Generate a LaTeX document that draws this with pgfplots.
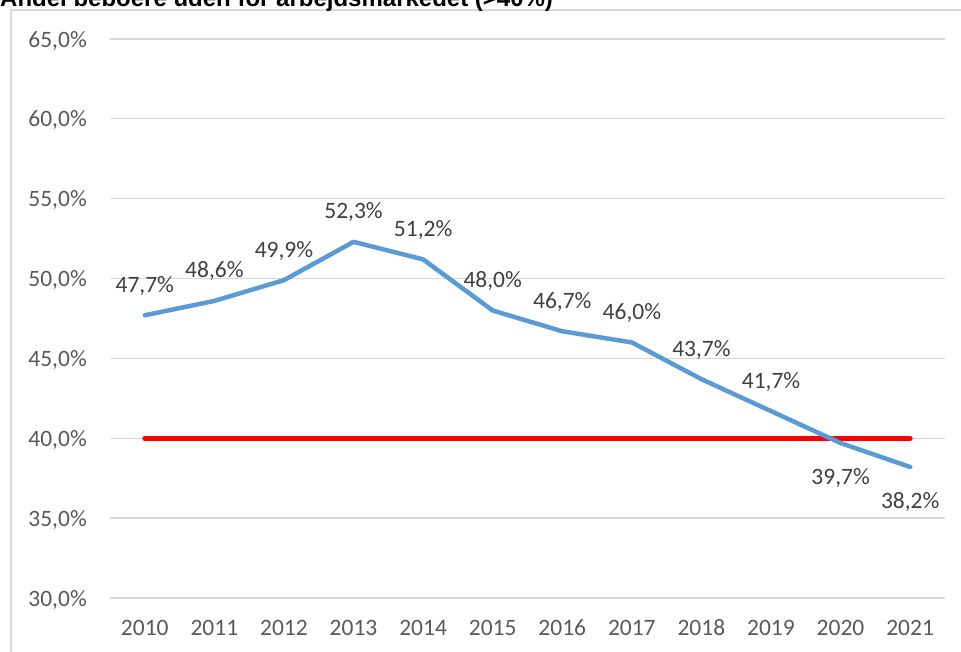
\documentclass[border=0pt]{standalone}
\usepackage{pgfplots}
\pgfplotsset{compat=1.18}
\usepackage{fontspec}
\setmainfont{Carlito}
\newfontfamily\titlefont{Liberation Sans}
\definecolor{gridc}{HTML}{D9D9D9}
\definecolor{tickc}{HTML}{595959}
\definecolor{labc}{HTML}{404040}
\definecolor{bluel}{HTML}{5B9BD5}
\begin{document}
\begin{tikzpicture}[x=1pt,y=1pt]
\path[use as bounding box, clip] (0,0) rectangle (961,652);
\draw[gridc, line width=1.2pt] (11,-10) -- (11,642) -- (975,642);
\node[anchor=base west, inner sep=0, font=\titlefont\bfseries\fontsize{24}{28}\selectfont] at (0,645) {Andel beboere uden for arbejdsmarkedet (>40\%)};
\begin{axis}[
  at={(110pt,54pt)}, anchor=south west,
  scale only axis, width=835pt, height=559pt,
  xmin=2009.5, xmax=2021.5, ymin=30, ymax=65,
  ytick={30,35,...,65}, xtick={2010,...,2021},
  ymajorgrids, major grid style={gridc, line width=1.3pt},
  axis line style={draw=none}, major tick length=0pt,
  clip=false,
  font=\fontsize{23.5}{28}\selectfont,
  yticklabel={\pgfmathprintnumber[fixed,fixed zerofill,precision=1,use comma,assume math mode=true]{\tick}\%},
  xticklabel={\pgfmathprintnumber[assume math mode=true,1000 sep={}]{\tick}},
  yticklabel style={anchor=east, inner sep=0pt, xshift=-23pt, text=tickc, text depth=0pt},
  xticklabel style={anchor=base, inner sep=0pt, yshift=-38pt, text=tickc},
]
\addplot[red, line width=5pt, line cap=round] coordinates {(2010,40) (2021,40)};
\addplot[bluel, line width=4.5pt, line cap=round, line join=round, mark=none] coordinates {
(2010,47.7) (2011,48.6) (2012,49.9) (2013,52.3) (2014,51.2) (2015,48.0)
(2016,46.7) (2017,46.0) (2018,43.7) (2019,41.7) (2020,39.7) (2021,38.2)};
\addplot[draw=none, mark=none, point meta=explicit symbolic,
  nodes near coords, nodes near coords align={center},
  every node near coord/.style={anchor=base, inner sep=0pt, yshift=23pt, text=labc}]
  coordinates {
(2010,47.7)[47,7\%] (2011,48.6)[48,6\%] (2012,49.9)[49,9\%] (2013,52.3)[52,3\%] (2014,51.2)[51,2\%] (2015,48.0)[48,0\%]
(2016,46.7)[46,7\%] (2017,46.0)[46,0\%] (2018,43.7)[43,7\%] (2019,41.7)[41,7\%]};
\addplot[draw=none, mark=none, point meta=explicit symbolic,
  nodes near coords, nodes near coords align={center},
  every node near coord/.style={anchor=base, inner sep=0pt, yshift=-41pt, text=labc}]
  coordinates {(2020,39.7)[39,7\%] (2021,38.2)[38,2\%]};
\end{axis}
\end{tikzpicture}
\end{document}
